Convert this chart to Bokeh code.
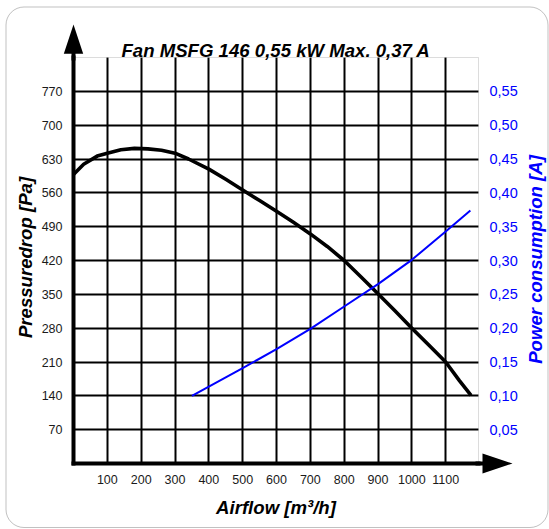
import math
from bokeh.plotting import figure
from bokeh.models import (Range1d, LinearAxis, FixedTicker, Label, PolyAnnotation,
                          BoxAnnotation, CustomJSTickFormatter)
from bokeh.embed import file_html
from bokeh.resources import INLINE

# ---------------- data ----------------
title_text = "Fan MSFG 146 0,55 kW Max. 0,37 A"
x_label = "Airflow [m³/h]"
y_label = "Pressuredrop [Pa]"
y2_label = "Power consumption [A]"

airflow_ticks = [100, 200, 300, 400, 500, 600, 700, 800, 900, 1000, 1100]
pressure_ticks = [70, 140, 210, 280, 350, 420, 490, 560, 630, 700, 770]
current_ticks = [0.05, 0.10, 0.15, 0.20, 0.25, 0.30, 0.35, 0.40, 0.45, 0.50, 0.55]

pressure_airflow = [0, 30, 70, 100, 140, 180, 220, 260, 300, 340, 400, 450, 500,
                    550, 600, 650, 700, 750, 800, 850, 900, 950, 1000, 1050,
                    1100, 1140, 1175]
pressure_values = [598, 619, 636, 642, 649, 652, 651, 648, 642, 630, 609, 588, 566,
                   544, 522, 499, 475, 449, 420, 386, 351, 316, 280, 245,
                   210, 172, 141]

current_airflow = [350, 500, 600, 700, 800, 900, 1000, 1100, 1173]
current_values = [0.100, 0.141, 0.169, 0.199, 0.232, 0.265, 0.301, 0.343, 0.374]

X_MAX = 1197
Y_MAX = 840
Y2_MAX = 0.60

FONT = "Liberation Sans"
BLUE = "#0000ff"
LABEL_SIZE = "18.6px"

# ---------------- layout geometry (pixels) ----------------
W, H = 549, 529
PL, PR, PT, PB = 73, 478, 57, 463          # plot area box on the canvas
sx = (PR - PL) / X_MAX
sy = (PB - PT) / Y_MAX
x_rng = Range1d(-PL / sx, X_MAX + (W - PR) / sx)
y_rng = Range1d(-(H - PB) / sy, Y_MAX + PT / sy)
k2 = Y2_MAX / Y_MAX
y2_rng = Range1d(y_rng.start * k2, y_rng.end * k2)

p = figure(width=W, height=H, output_backend="svg", toolbar_location=None,
           x_range=x_rng, y_range=y_rng,
           min_border_left=0, min_border_right=0, min_border_top=0,
           min_border_bottom=0, background_fill_color="white",
           border_fill_color="white")
p.title.visible = False
p.outline_line_color = None
p.extra_y_ranges = {"current": y2_rng}

# ---------------- axes ----------------
xax = p.xaxis[0]
yax = p.yaxis[0]
xax.ticker = FixedTicker(ticks=airflow_ticks)
yax.ticker = FixedTicker(ticks=pressure_ticks)
xax.fixed_location = 0
yax.fixed_location = 0
xax.bounds = (0, X_MAX)
yax.bounds = (0, Y_MAX)

right_axis = LinearAxis(y_range_name="current",
                        ticker=FixedTicker(ticks=current_ticks),
                        formatter=CustomJSTickFormatter(
                            code="return tick.toFixed(2).replace('.', ',');"),
                        fixed_location=X_MAX, bounds=(0, Y2_MAX))
p.add_layout(right_axis, "right")

for ax in [xax, yax, right_axis]:
    ax.major_tick_line_color = None
    ax.minor_tick_line_color = None
    ax.major_tick_out = 0
    ax.major_tick_in = 0
    ax.major_label_text_font = FONT

for ax in [xax, yax]:
    ax.axis_line_color = "black"
    ax.axis_line_width = 4
    ax.axis_line_cap = "square"
    ax.major_label_text_font_size = "12.5px"
    ax.major_label_text_color = "#1a1a1a"

xax.major_label_standoff = 11
yax.major_label_standoff = 11

right_axis.axis_line_color = None
right_axis.major_label_text_font_size = "14.5px"
right_axis.major_label_text_color = BLUE
right_axis.major_label_standoff = 11

# ---------------- grid ----------------
xg = p.xgrid[0]
yg = p.ygrid[0]
xg.ticker = FixedTicker(ticks=airflow_ticks)
yg.ticker = FixedTicker(ticks=pressure_ticks)
xg.bounds = (0, X_MAX)
yg.bounds = (0, Y_MAX)
if "cross_bounds" in xg.properties():
    xg.cross_bounds = (0, Y_MAX)
    yg.cross_bounds = (0, X_MAX)
    for g in [xg, yg]:
        g.grid_line_color = "black"
        g.grid_line_width = 2
else:
    xg.visible = False
    yg.visible = False
    p.segment(x0=airflow_ticks, y0=[0] * len(airflow_ticks),
              x1=airflow_ticks, y1=[Y_MAX] * len(airflow_ticks),
              line_color="black", line_width=2)
    p.segment(x0=[0] * len(pressure_ticks), y0=pressure_ticks,
              x1=[X_MAX] * len(pressure_ticks), y1=pressure_ticks,
              line_color="black", line_width=2)

# plot-area outline (thin grey)
p.add_layout(BoxAnnotation(left=0, right=X_MAX, bottom=0, top=Y_MAX,
                           fill_color=None, fill_alpha=0,
                           line_color="#8a8a8a", line_width=1, level="underlay"))

# ---------------- curves ----------------
p.line(pressure_airflow, pressure_values, line_color="black", line_width=3.6,
       line_join="round")
p.line(current_airflow, current_values, y_range_name="current",
       line_color=BLUE, line_width=2, line_join="round")

# ---------------- texts (screen units: origin bottom-left of canvas) ----------------
p.add_layout(Label(x=(PL + PR) / 2, y=H - 50, x_units="screen", y_units="screen",
                   text=title_text, text_align="center",
                   text_baseline="alphabetic", text_font=FONT,
                   text_font_style="bold italic", text_font_size=LABEL_SIZE,
                   text_color="black"))
p.add_layout(Label(x=(PL + PR) / 2, y=H - 507, x_units="screen", y_units="screen",
                   text=x_label, text_align="center", text_baseline="middle",
                   text_font=FONT, text_font_style="bold italic",
                   text_font_size=LABEL_SIZE, text_color="black"))
p.add_layout(Label(x=25, y=H - 257, x_units="screen", y_units="screen",
                   text=y_label, text_align="center", text_baseline="middle",
                   angle=math.pi / 2, text_font=FONT,
                   text_font_style="bold italic", text_font_size=LABEL_SIZE,
                   text_color="black"))
p.add_layout(Label(x=535, y=H - 259, x_units="screen", y_units="screen",
                   text=y2_label, text_align="center", text_baseline="middle",
                   angle=math.pi / 2, text_font=FONT,
                   text_font_style="bold italic", text_font_size=LABEL_SIZE,
                   text_color=BLUE))

# ---------------- axis arrows ----------------
ay = [H - 60, H - 53.3, H - 53.3, H - 24, H - 53.3, H - 53.3, H - 60]
p.add_layout(PolyAnnotation(xs=[PL - 2, PL - 2, PL - 9.7, PL, PL + 9.7, PL + 2, PL + 2],
                            ys=ay, xs_units="screen", ys_units="screen",
                            fill_color="black", fill_alpha=1, line_color=None))
cy = H - PB
p.add_layout(PolyAnnotation(xs=[PR - 3, PR + 4, PR + 4, PR + 34, PR + 4, PR + 4, PR - 3],
                            ys=[cy + 2, cy + 2, cy + 10, cy, cy - 10, cy - 2, cy - 2],
                            xs_units="screen", ys_units="screen",
                            fill_color="black", fill_alpha=1, line_color=None))

# ---------------- rounded outer frame ----------------
p.add_layout(BoxAnnotation(left=5.5, right=547.5, bottom=H - 527, top=H - 6.5,
                           left_units="screen", right_units="screen",
                           bottom_units="screen", top_units="screen",
                           fill_color=None, fill_alpha=0, line_color="#333333",
                           line_width=1, border_radius=18))

open("out.html", "w").write(file_html(p, INLINE))
